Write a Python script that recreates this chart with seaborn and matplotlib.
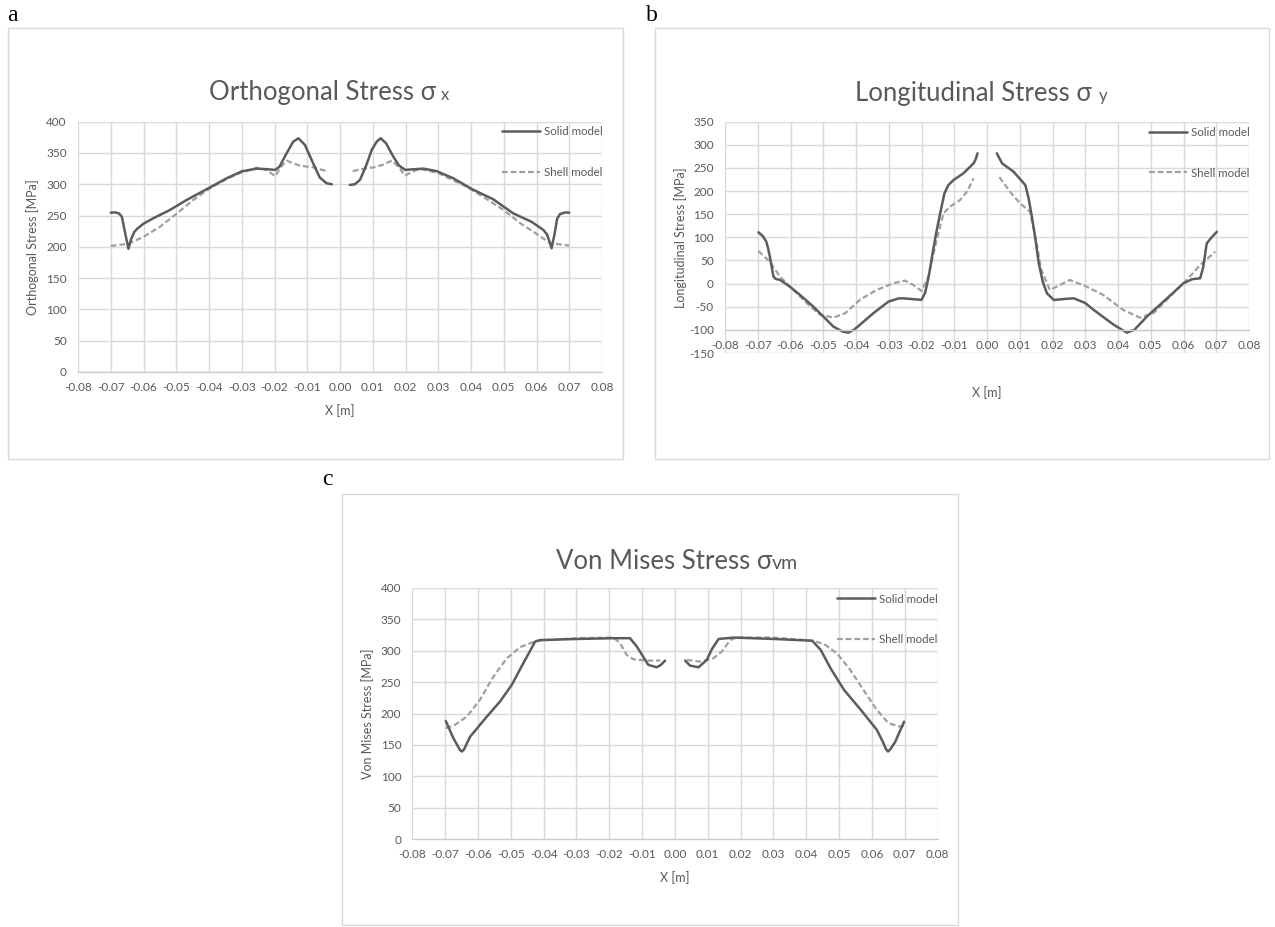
import numpy as np
import pandas as pd
import matplotlib
matplotlib.use("Agg")
import matplotlib.pyplot as plt
import seaborn as sns
from matplotlib.patches import Rectangle
from matplotlib.lines import Line2D

# ---------------- data ----------------
x_ticks = [-0.08, -0.07, -0.06, -0.05, -0.04, -0.03, -0.02, -0.01, 0.00,
           0.01, 0.02, 0.03, 0.04, 0.05, 0.06, 0.07, 0.08]
x_tick_labels = ["-0.08", "-0.07", "-0.06", "-0.05", "-0.04", "-0.03", "-0.02", "-0.01", "0.00",
                 "0.01", "0.02", "0.03", "0.04", "0.05", "0.06", "0.07", "0.08"]
series_names = ["Solid model", "Shell model"]

# (a) Orthogonal stress
a_solid_x = [-0.0700, -0.0685, -0.0674, -0.0666, -0.0656, -0.0646, -0.0638, -0.0628, -0.0619, -0.0600,
             -0.0570, -0.0519, -0.0468, -0.0397, -0.0346, -0.0300, -0.0254, -0.0220, -0.0198, -0.0185,
             -0.0163, -0.0143, -0.0127, -0.0107, -0.0082, -0.0062, -0.0041, -0.0025,
             0.0030, 0.0045, 0.0061, 0.0080, 0.0097, 0.0112, 0.0124, 0.0140, 0.0163, 0.0180,
             0.0199, 0.0225, 0.0255, 0.0295, 0.0346, 0.0402, 0.0468, 0.0529, 0.0585, 0.0621,
             0.0632, 0.0640, 0.0646, 0.0655, 0.0663, 0.0672, 0.0688, 0.0700]
a_solid_v = [254.6, 255, 253, 248, 222, 197, 212, 224, 229, 237,
             245.7, 259, 275, 295, 309.6, 320.7, 325, 324, 322.9, 328,
             349.5, 368, 373.5, 362.8, 333.5, 311, 301.6, 300,
             299, 300, 307, 330, 355, 368, 373.5, 366, 344, 330,
             323, 324, 325, 321, 309.6, 292.5, 276, 253.5, 240, 227,
             220, 208, 197.8, 220, 245, 252.5, 255, 254.6]
a_shell_x = [-0.0700, -0.0646, -0.0600, -0.0550, -0.0499, -0.0448, -0.0397, -0.0346, -0.0300, -0.0254,
             -0.0224, -0.0198, -0.0180, -0.0163, -0.0140, -0.0122, -0.0082, -0.0041,
             0.0039, 0.0070, 0.0102, 0.0130, 0.0158, 0.0175, 0.0199, 0.0220, 0.0244, 0.0300,
             0.0387, 0.0440, 0.0499, 0.0550, 0.0591, 0.0641, 0.0700]
a_shell_v = [201.5, 205, 216, 232, 253, 275, 293.6, 308.5, 319, 326.5,
             323, 313, 328, 337.7, 333, 329.7, 327, 321,
             321, 324.5, 327, 331, 337.7, 330, 314, 320, 324.5, 318,
             296, 279, 259, 238, 224, 206, 202]

# (b) Longitudinal stress
b_solid_x = [-0.0698, -0.0685, -0.0674, -0.0668, -0.0663, -0.0657, -0.0652, -0.0645, -0.0632, -0.0602,
             -0.0571, -0.0530, -0.0500, -0.0469, -0.0440, -0.0423, -0.0405, -0.0388, -0.0347, -0.0301,
             -0.0270, -0.0256, -0.0220, -0.0200, -0.0189, -0.0178, -0.0168, -0.0155, -0.0143, -0.0130,
             -0.0118, -0.0102, -0.0072, -0.0041, -0.0035, -0.0029,
             0.0030, 0.0046, 0.0081, 0.0117, 0.0127, 0.0137, 0.0148, 0.0158, 0.0170, 0.0183,
             0.0204, 0.0240, 0.0265, 0.0300, 0.0326, 0.0387, 0.0427, 0.0450, 0.0488, 0.0550,
             0.0600, 0.0626, 0.0651, 0.0660, 0.0671, 0.0687, 0.0702]
b_solid_v = [111, 103, 90.7, 75, 58, 35, 15, 10, 8, -6.6,
             -24.5, -50, -71, -93, -104, -106, -99, -89, -64, -39,
             -32, -31.7, -34, -35, -20, 15, 58, 110, 152, 195,
             213, 224, 238.5, 260, 268, 281.7,
             281.7, 260, 242, 213, 185, 144.7, 95, 44, 5, -21,
             -35.3, -33, -31.7, -42, -57, -89, -106, -100, -71.4, -31.7,
             0.8, 9.4, 11.6, 35, 87, 101, 112]
b_shell_x = [-0.0698, -0.0663, -0.0632, -0.0591, -0.0550, -0.0509, -0.0469, -0.0433, -0.0388, -0.0337,
             -0.0286, -0.0250, -0.0225, -0.0200, -0.0179, -0.0154, -0.0133, -0.0113, -0.0082, -0.0060,
             -0.0041,
             0.0038, 0.0070, 0.0101, 0.0131, 0.0146, 0.0166, 0.0192, 0.0223, 0.0253, 0.0304,
             0.0355, 0.0416, 0.0467, 0.0508, 0.0559, 0.0610, 0.0651, 0.0697]
b_shell_v = [70.6, 47, 15, -13.7, -42.5, -67.7, -73.5, -64, -35, -13.7,
             0.8, 6.4, -3, -15.8, 15, 94, 152, 166.3, 180.8, 200,
             227.6,
             230, 198.7, 173.6, 155.5, 108.8, 29.5, -13.7, -3, 7.9, -6.6,
             -24.5, -57, -73.5, -64, -28, 8, 40.3, 69]

# (c) Von Mises stress
c_solid_x = [-0.0698, -0.0675, -0.0655, -0.0649, -0.0642, -0.0636, -0.0624, -0.0573, -0.0533, -0.0497,
             -0.0462, -0.0426, -0.0410, -0.0298, -0.0187, -0.0137, -0.0116, -0.0081, -0.0055, -0.0043,
             -0.0030,
             0.0031, 0.0046, 0.0072, 0.0097, 0.0113, 0.0133, 0.0179, 0.0301, 0.0418, 0.0444,
             0.0474, 0.0515, 0.0566, 0.0615, 0.0635, 0.0643, 0.0649, 0.0656, 0.0671, 0.0698]
c_solid_v = [188, 160.7, 142, 139.4, 143, 150, 163, 195, 219, 245.6,
             280, 314.5, 317, 318.8, 320, 320, 306.6, 277.4, 273.7, 277.4,
             284.3,
             284.3, 276.3, 273.7, 285.4, 303, 318.8, 321, 318.8, 316, 301.3,
             272, 237.6, 205.8, 174, 152.7, 143, 139.4, 143, 155, 187]
c_shell_x = [-0.0698, -0.0670, -0.0634, -0.0594, -0.0553, -0.0512, -0.0472, -0.0421, -0.0298, -0.0187,
             -0.0167, -0.0147, -0.0126, -0.0086, -0.0045,
             0.0036, 0.0077, 0.0117, 0.0143, 0.0168, 0.0188, 0.0301, 0.0418, 0.0453, 0.0493,
             0.0534, 0.0574, 0.0615, 0.0650, 0.0686, 0.0698]
c_shell_v = [176.6, 182, 195, 221.7, 258.8, 288, 305.6, 316, 320, 321,
             312, 293.3, 286.4, 284.3, 284.3,
             285.4, 282.7, 288, 298.6, 317, 321, 321, 316, 311, 296,
             269.5, 237.6, 205.8, 184.6, 179, 180]

a_yticks = [0, 50, 100, 150, 200, 250, 300, 350, 400]
b_yticks = [-150, -100, -50, 0, 50, 100, 150, 200, 250, 300, 350]
c_yticks = [0, 50, 100, 150, 200, 250, 300, 350, 400]

# ---------------- style ----------------
sns.set_style("white")
plt.rcParams["font.family"] = ["Lato", "DejaVu Sans"]

W, H = 1275, 927
TC = "#595959"
GRID = "#d9d9d9"
SOLID_C = "#5c5c5c"
SHELL_C = "#a0a0a0"
DASH = (0, (2.6, 1.3))

fig = plt.figure(figsize=(W / 100, H / 100), dpi=100)


def fx(px):
    return px / W


def fy(py):
    return 1 - py / H


def make_axes(l, r, t, b):
    return fig.add_axes([l / W, 1 - b / H, (r - l) / W, (b - t) / H])


def panel_box(l, t, r, b):
    fig.add_artist(Rectangle((fx(l), fy(b)), (r - l) / W, (b - t) / H,
                             transform=fig.transFigure, fill=False,
                             ec=GRID, lw=1.0))


def draw_panel(ax, sx, sv, hx, hv, yticks, ylabel, ylabel_x, xlabel_y, axis_at, leg_xy):
    sdf = pd.DataFrame({"x": sx, "v": sv})
    sdf["half"] = np.where(sdf["x"] < 0, "L", "R")
    hdf = pd.DataFrame({"x": hx, "v": hv})
    hdf["half"] = np.where(hdf["x"] < 0, "L", "R")
    sns.lineplot(data=hdf, x="x", y="v", units="half", estimator=None, sort=False,
                 color=SHELL_C, lw=1.6, linestyle=DASH, ax=ax, legend=False)
    sns.lineplot(data=sdf, x="x", y="v", units="half", estimator=None, sort=False,
                 color=SOLID_C, lw=1.8, ax=ax, legend=False)
    ax.set_xlim(x_ticks[0], x_ticks[-1])
    ax.set_ylim(yticks[0], yticks[-1])
    ax.set_xticks(x_ticks)
    ax.set_xticklabels(x_tick_labels)
    ax.set_yticks(yticks)
    ax.set_yticklabels([str(t) for t in yticks])
    ax.grid(True, color=GRID, lw=1.0)
    ax.set_axisbelow(True)
    for s in ["left", "right", "top"]:
        ax.spines[s].set_visible(False)
    ax.spines["bottom"].set_color("#cccccc")
    ax.spines["bottom"].set_linewidth(1.0)
    if axis_at is not None:
        ax.spines["bottom"].set_position(("data", axis_at))
    ax.tick_params(axis="both", length=0, labelsize=8.5, colors=TC)
    ax.tick_params(axis="x", pad=7.5)
    ax.tick_params(axis="y", pad=8)
    ax.set_ylabel(ylabel, fontsize=9, color=TC)
    ax.yaxis.label.set_va("center")
    ax.yaxis.set_label_coords(ylabel_x, 0.5)
    ax.set_xlabel("X [m]", fontsize=9, color=TC)
    ax.xaxis.label.set_va("center")
    ax.xaxis.set_label_coords(0.5, xlabel_y)
    handles = [Line2D([], [], color=SOLID_C, lw=1.8),
               Line2D([], [], color=SHELL_C, lw=1.6, linestyle=DASH)]
    leg = ax.legend(handles, series_names, loc="upper left", bbox_to_anchor=leg_xy,
                    frameon=False, fontsize=8.3, handlelength=3.3, handletextpad=0.35,
                    labelspacing=2.6, borderpad=0, borderaxespad=0)
    for t in leg.get_texts():
        t.set_color(TC)


def title(cx, base_y, main, sub, main_fs, sub_fs, gap):
    t1 = fig.text(0, fy(base_y), main, fontsize=main_fs, color=TC, va="baseline", ha="left")
    t2 = fig.text(0, fy(base_y), sub, fontsize=sub_fs, color=TC, va="baseline", ha="left")
    r = fig.canvas.get_renderer()
    w1 = t1.get_window_extent(r).width
    w2 = t2.get_window_extent(r).width
    x0 = cx - (w1 + gap + w2) / 2
    t1.set_x(fx(x0))
    t2.set_x(fx(x0 + w1 + gap))


# panel frames
panel_box(7.5, 28.3, 622.7, 459)
panel_box(655, 28.3, 1269, 459)
panel_box(341.7, 494, 957.7, 925)

# panel letters
fig.text(fx(12.7), fy(15.5), "a", family="Liberation Serif", fontsize=17, ha="center", va="center", color="black")
fig.text(fx(652), fy(15.5), "b", family="Liberation Serif", fontsize=17, ha="center", va="center", color="black")
fig.text(fx(327), fy(479), "c", family="Liberation Serif", fontsize=17, ha="center", va="center", color="black")

ax_a = make_axes(78, 602, 121.7, 372)
draw_panel(ax_a, a_solid_x, a_solid_v, a_shell_x, a_shell_v, a_yticks,
           "Orthogonal Stress [MPa]", -0.086, -0.156, None, (0.809, 0.983))

ax_b = make_axes(725, 1249, 121.7, 353)
draw_panel(ax_b, b_solid_x, b_solid_v, b_shell_x, b_shell_v, b_yticks,
           "Longitudinal Stress [MPa]", -0.084, -0.173, -100, (0.809, 0.979))

ax_c = make_axes(412.3, 937.6, 588, 839)
draw_panel(ax_c, c_solid_x, c_solid_v, c_shell_x, c_shell_v, c_yticks,
           "Von Mises Stress [MPa]", -0.086, -0.155, None, (0.808, 0.978))

title(329, 100, "Orthogonal Stress σ", "x", 18.5, 12, 5)
title(981, 101, "Longitudinal Stress σ", "y", 18.5, 12, 7)
title(677, 569, "Von Mises Stress σ", "vm", 18.5, 14, 0)

fig.savefig("out.png", dpi=100)
